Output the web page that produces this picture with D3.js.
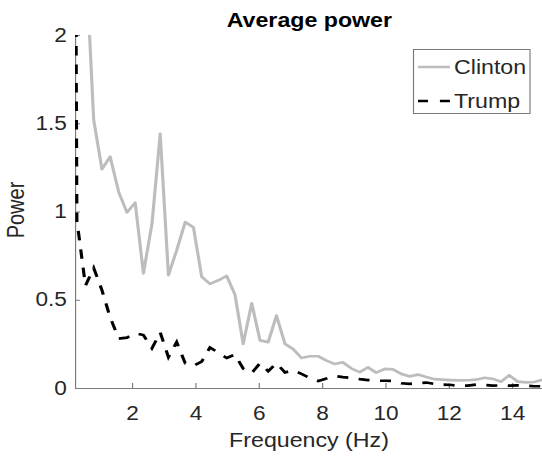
<!DOCTYPE html>
<html>
<head>
<meta charset="utf-8">
<script src="https://cdn.jsdelivr.net/npm/d3@7"></script>
<style>
  html, body { margin: 0; padding: 0; background: #fff; }
  svg { display: block; }
  text { font-family: "Liberation Sans", Arial, Helvetica, sans-serif; }
</style>
</head>
<body>
<script>
// ---- data ----
const frequencies = [0, 0.26, 0.53, 0.79, 1.05, 1.31, 1.58, 1.84, 2.10, 2.36, 2.63, 2.89, 3.15, 3.41, 3.68, 3.94, 4.20, 4.46, 4.73, 4.99, 5.25, 5.51, 5.78, 6.04, 6.30, 6.56, 6.83, 7.09, 7.35, 7.61, 7.88, 8.14, 8.40, 8.66, 8.93, 9.19, 9.45, 9.71, 9.98, 10.24, 10.50, 10.76, 11.03, 11.29, 11.55, 11.81, 12.08, 12.34, 12.60, 12.86, 13.13, 13.39, 13.65, 13.91, 14.18, 14.44, 14.70, 14.96, 15.23];
const clintonPower = [6.0, 3.6, 2.48, 1.52, 1.24, 1.31, 1.11, 0.995, 1.05, 0.65, 0.93, 1.44, 0.64, 0.78, 0.94, 0.91, 0.63, 0.59, 0.61, 0.635, 0.53, 0.25, 0.48, 0.27, 0.26, 0.41, 0.25, 0.22, 0.17, 0.18, 0.18, 0.155, 0.136, 0.145, 0.11, 0.09, 0.117, 0.087, 0.108, 0.106, 0.08, 0.066, 0.076, 0.062, 0.05, 0.048, 0.045, 0.043, 0.044, 0.047, 0.058, 0.052, 0.036, 0.072, 0.036, 0.032, 0.034, 0.047, 0.05];
const trumpPower = [12, 0.95, 0.58, 0.68, 0.555, 0.40, 0.28, 0.285, 0.31, 0.30, 0.225, 0.315, 0.175, 0.26, 0.14, 0.125, 0.15, 0.23, 0.20, 0.17, 0.19, 0.11, 0.085, 0.14, 0.095, 0.14, 0.088, 0.10, 0.08, 0.057, 0.04, 0.054, 0.068, 0.062, 0.057, 0.05, 0.045, 0.041, 0.041, 0.04, 0.027, 0.023, 0.028, 0.031, 0.023, 0.019, 0.017, 0.013, 0.013, 0.019, 0.017, 0.013, 0.015, 0.013, 0.015, 0.013, 0.01, 0.01, 0.01];
const seriesNames = ["Clinton", "Trump"];
const xTicks = [2, 4, 6, 8, 10, 12, 14];
const yTicks = [0, 0.5, 1, 1.5, 2];
const xDomain = [0.2, 15];
const yDomain = [0, 2];

// ---- layout (reference appears stretched horizontally) ----
const W = 542, H = 456, SX = 1.16;
const X = v => v / SX; // screen x -> internal x
const plot = { left: 75, right: 543.75, top: 35, bottom: 388 };
const textColor = "#262626", axisColor = "#7a7a7a";
const fs = 19.5;

const svg = d3.select("body").append("svg").attr("width", W).attr("height", H);
const g = svg.append("g").attr("transform", `scale(${SX},1)`);

const x = d3.scaleLinear().domain(xDomain).range([X(plot.left), X(plot.right)]);
const y = d3.scaleLinear().domain(yDomain).range([plot.bottom, plot.top]);

g.append("clipPath").attr("id", "clip").append("rect")
  .attr("x", X(plot.left)).attr("y", plot.top)
  .attr("width", X(plot.right) - X(plot.left)).attr("height", plot.bottom - plot.top);

// axes
const yAxis = g.append("g").attr("transform", `translate(${X(plot.left)},0)`)
  .call(d3.axisLeft(y).tickValues(yTicks).tickFormat(d3.format("")).tickSizeInner(-5 / SX).tickSizeOuter(0).tickPadding(7));
const xAxis = g.append("g").attr("transform", `translate(0,${plot.bottom})`)
  .call(d3.axisBottom(x).tickValues(xTicks).tickFormat(d3.format("d")).tickSizeInner(-5).tickSizeOuter(0).tickPadding(18));
[yAxis, xAxis].forEach(a => {
  a.select(".domain").attr("stroke", axisColor).attr("stroke-width", 1);
  a.selectAll(".tick line").attr("stroke", axisColor).attr("stroke-width", 1);
  a.selectAll(".tick text").attr("fill", textColor).style("font-size", fs + "px")
    .style("font-family", '"Liberation Sans", Arial, sans-serif');
});

// lines
const pts = vals => frequencies.map((f, i) => [f, vals[i]]);
const line = d3.line().x(d => x(d[0])).y(d => y(d[1]));
const lines = g.append("g").attr("clip-path", "url(#clip)");
lines.append("path").datum(pts(clintonPower))
  .attr("d", line).attr("fill", "none").attr("stroke", "#bdbdbd")
  .attr("stroke-width", 2.7).attr("stroke-linejoin", "round");
lines.append("path").datum(pts(trumpPower))
  .attr("d", line).attr("fill", "none").attr("stroke", "#000")
  .attr("stroke-width", 2.7).attr("stroke-dasharray", "9.5,9");

// title and labels
g.append("text").attr("x", X((plot.left + plot.right) / 2)).attr("y", 27)
  .attr("text-anchor", "middle").attr("font-weight", "bold").attr("fill", "#000")
  .style("font-size", "20px").text("Average power");
g.append("text").attr("x", X(309)).attr("y", 447)
  .attr("text-anchor", "middle").attr("fill", textColor)
  .style("font-size", "20px").text("Frequency (Hz)");
g.append("text").attr("transform", `translate(${X(24)},210) rotate(-90)`)
  .attr("text-anchor", "middle").attr("fill", textColor)
  .style("font-size", "20px").text("Power");

// legend
const lg = g.append("g");
lg.append("rect").attr("x", X(413.5)).attr("y", 49.5)
  .attr("width", X(530) - X(413.5)).attr("height", 64)
  .attr("fill", "#fff").attr("stroke", axisColor).attr("stroke-width", 1);
const legendRows = [
  { name: seriesNames[0], y: 67, stroke: "#bdbdbd", dash: null },
  { name: seriesNames[1], y: 101, stroke: "#000", dash: "8.6,10.3" }
];
legendRows.forEach(r => {
  lg.append("line").attr("x1", X(418)).attr("x2", X(450)).attr("y1", r.y).attr("y2", r.y)
    .attr("stroke", r.stroke).attr("stroke-width", 2.7).attr("stroke-dasharray", r.dash);
  lg.append("text").attr("x", X(454)).attr("y", r.y).attr("dy", "0.35em")
    .attr("fill", textColor).style("font-size", "20px").text(r.name);
});
</script>
</body>
</html>
